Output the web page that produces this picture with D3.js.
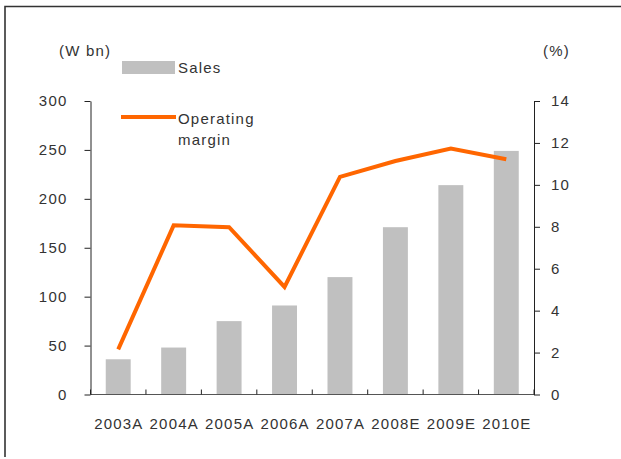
<!DOCTYPE html>
<html>
<head>
<meta charset="utf-8">
<script src="https://cdn.jsdelivr.net/npm/d3@7"></script>
<style>
  body { margin: 0; background: #fff; }
  text { font-family: "Liberation Sans", Arial, sans-serif; font-size: 15px; fill: #333; letter-spacing: 1.2px; }
</style>
</head>
<body>
<div id="chart"></div>
<script>
var width = 621, height = 459

// data
var years = ["2003A", "2004A", "2005A", "2006A", "2007A", "2008E", "2009E", "2010E"]
var sales = [36, 48, 75, 91, 120, 171, 214, 249]
var margin = [2.15, 8.07, 7.98, 5.13, 10.38, 11.14, 11.73, 11.22]
var leftTicks = [0, 50, 100, 150, 200, 250, 300]
var rightTicks = [0, 2, 4, 6, 8, 10, 12, 14]

var svg = d3.select("#chart")
    .append("svg")
    .attr("width", width)
    .attr("height", height)

// frame (top + left only)
svg.append("path")
    .attr("d", "M5,457V6.5H621")
    .attr("fill", "none")
    .attr("stroke", "#333")
    .attr("stroke-width", 1.6)

var x = d3.scaleBand()
    .domain(years)
    .range([90.5, 534])
    .paddingInner(0.55)
    .paddingOuter(0.275)

var yL = d3.scaleLinear().domain([0, 300]).range([394.5, 101])
var yR = d3.scaleLinear().domain([0, 14]).range([394.5, 101])

// bars
svg.append("g")
    .selectAll("rect")
    .data(sales)
    .enter().append("rect")
    .attr("x", function(d, i) { return x(years[i]) })
    .attr("width", x.bandwidth())
    .attr("y", function(d) { return yL(d) })
    .attr("height", function(d) { return yL(0) - yL(d) })
    .attr("fill", "#c0c0c0")

// x baseline + ticks at band boundaries
var half = (x.step() - x.bandwidth()) / 2
var bounds = years.map(function(c) { return x(c) - half })
bounds.push(x(years[years.length - 1]) + x.bandwidth() + half)
svg.append("line")
    .attr("x1", 90.5).attr("x2", 534)
    .attr("y1", yL(0)).attr("y2", yL(0))
    .attr("stroke", "#555").attr("stroke-width", 1.2)
svg.append("g")
    .selectAll("line")
    .data(bounds)
    .enter().append("line")
    .attr("x1", function(d) { return d }).attr("x2", function(d) { return d })
    .attr("y1", yL(0)).attr("y2", yL(0) - 5)
    .attr("stroke", "#222")

// x labels
svg.append("g")
    .selectAll("text")
    .data(years)
    .enter().append("text")
    .attr("x", function(d) { return x(d) + x.bandwidth() / 2 + 0.6 })
    .attr("y", 428.5)
    .attr("text-anchor", "middle")
    .text(function(d) { return d })

// left axis
var gl = svg.append("g")
    .attr("transform", "translate(90.5,0)")
    .call(d3.axisLeft(yL).tickValues(leftTicks).tickSize(6).tickSizeOuter(0).tickPadding(17))
gl.select(".domain").attr("stroke", "#222")
gl.selectAll(".tick line").attr("stroke", "#222")
gl.selectAll("text").attr("font-family", null).attr("font-size", null).attr("fill", null)

// right axis
var gr = svg.append("g")
    .attr("transform", "translate(534,0)")
    .call(d3.axisRight(yR).tickValues(rightTicks).tickSize(6).tickSizeOuter(0).tickPadding(11))
gr.select(".domain").attr("stroke", "#222")
gr.selectAll(".tick line").attr("stroke", "#222")
gr.selectAll("text").attr("font-family", null).attr("font-size", null).attr("fill", null)

// margin line
var line = d3.line()
    .x(function(d, i) { return x(years[i]) + x.bandwidth() / 2 })
    .y(function(d) { return yR(d) })
svg.append("path")
    .datum(margin)
    .attr("d", line)
    .attr("fill", "none")
    .attr("stroke", "#ff6600")
    .attr("stroke-width", 4)
    .attr("stroke-linejoin", "miter")

// unit labels
svg.append("text").attr("x", 59).attr("y", 56).text("(W bn)")
svg.append("text").attr("x", 543).attr("y", 56).text("(%)")

// legend
svg.append("rect")
    .attr("x", 122).attr("y", 61).attr("width", 53).attr("height", 13)
    .attr("fill", "#c0c0c0")
svg.append("text").attr("x", 178).attr("y", 73).text("Sales")
svg.append("line")
    .attr("x1", 121).attr("x2", 176).attr("y1", 117).attr("y2", 117)
    .attr("stroke", "#ff6600").attr("stroke-width", 4)
svg.append("text").attr("x", 178).attr("y", 123.5).text("Operating")
svg.append("text").attr("x", 178).attr("y", 144.5).text("margin")
</script>
</body>
</html>
